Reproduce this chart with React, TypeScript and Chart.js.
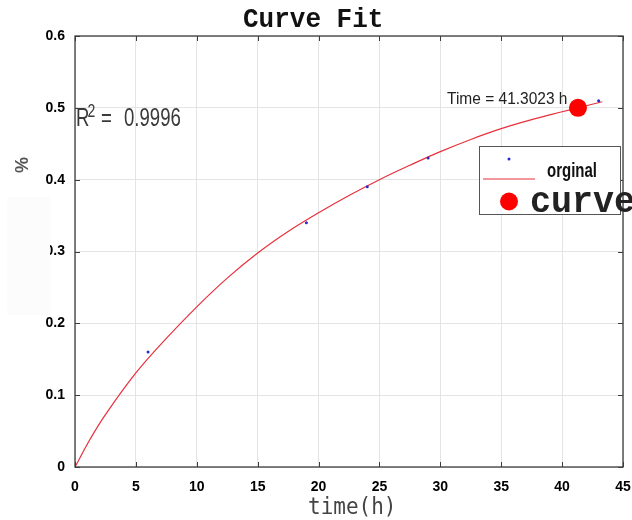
import React, { useEffect, useRef } from "react";
import { Chart, registerables } from "chart.js";

Chart.register(...registerables);

// Measured data (blue dots)
const originalX = [6, 19, 24, 29, 43];
const originalY = [0.16, 0.34, 0.39, 0.43, 0.51];

// Fitted curve
const curveX = [0, 1.25, 2.5, 5, 7.5, 10, 12.5, 15, 17.5, 20, 22.5, 25, 27.5, 30, 32.5, 35, 37.5, 40, 41.3, 43.3];
const curveY = [0, 0.039, 0.073, 0.131, 0.179, 0.223, 0.263, 0.298, 0.328, 0.354, 0.378, 0.4, 0.42, 0.439, 0.456, 0.471, 0.4835, 0.4945, 0.5, 0.5085];

// Marked point
const markX = [41.3023];
const markY = [0.5];

const xTicks = [0, 5, 10, 15, 20, 25, 30, 35, 40, 45];
const yTicks = [0, 0.1, 0.2, 0.3, 0.4, 0.5, 0.6];

const titleText = "Curve Fit";
const xLabel = "time(h)";
const yLabel = "%";
const r2Value = "0.9996";
const timeLabel = "Time = 41.3023 h";
const legendOriginal = "orginal";
const legendCurve = "curve";

const COURIER = "'Courier New', 'Nimbus Mono PS', 'Nimbus Mono L', FreeMono, 'Liberation Mono', monospace";

function stretchText(
  ctx: CanvasRenderingContext2D,
  text: string,
  x: number,
  y: number,
  font: string,
  color: string,
  sy: number
) {
  ctx.save();
  ctx.translate(x, y);
  ctx.scale(1, sy);
  ctx.font = font;
  ctx.fillStyle = color;
  ctx.textAlign = "left";
  ctx.textBaseline = "alphabetic";
  ctx.fillText(text, 0, 0);
  ctx.restore();
}

const decorPlugin = {
  id: "decor",
  afterDatasetsDraw(chart: any) {
    const ctx: CanvasRenderingContext2D = chart.ctx;
    const { left, right, top, bottom } = chart.chartArea;
    const xs = chart.scales.x;
    const ys = chart.scales.y;
    ctx.save();
    ctx.strokeStyle = "#3c3c3c";
    ctx.lineWidth = 1.3;
    ctx.strokeRect(left, top, right - left, bottom - top);
    ctx.lineWidth = 1;
    ctx.beginPath();
    xTicks.forEach((v) => {
      const px = Math.round(xs.getPixelForValue(v)) + 0.5;
      ctx.moveTo(px, bottom);
      ctx.lineTo(px, bottom - 5);
      ctx.moveTo(px, top);
      ctx.lineTo(px, top + 5);
    });
    yTicks.forEach((v) => {
      const py = Math.round(ys.getPixelForValue(v)) + 0.5;
      ctx.moveTo(left, py);
      ctx.lineTo(left + 5, py);
      ctx.moveTo(right, py);
      ctx.lineTo(right - 5, py);
    });
    ctx.stroke();
    ctx.restore();
  },
  afterDraw(chart: any) {
    const ctx: CanvasRenderingContext2D = chart.ctx;
    ctx.save();
    // faint patch over the left side
    ctx.fillStyle = "#fcfcfc";
    ctx.fillRect(7, 197, 43, 118);

    // title
    stretchText(ctx, titleText, 243, 27, "bold 26px " + COURIER, "#111", 1.05);

    // x label
    stretchText(ctx, xLabel, 308, 514, "21px 'DejaVu Sans Mono'", "#444", 1.1);

    // y label rotated
    ctx.save();
    ctx.translate(28, 165);
    ctx.rotate(-Math.PI / 2);
    ctx.font = "bold 18px 'Liberation Sans'";
    ctx.fillStyle = "#555";
    ctx.textAlign = "center";
    ctx.textBaseline = "alphabetic";
    ctx.fillText(yLabel, 0, 0);
    ctx.restore();

    // R^2 text
    stretchText(ctx, "R", 76, 126, "18.6px 'Liberation Sans'", "#3a3a3a", 1.35);
    stretchText(ctx, "2", 87.5, 116.5, "14px 'Liberation Sans'", "#3a3a3a", 1.25);
    stretchText(ctx, "=", 101, 126, "18.6px 'Liberation Sans'", "#3a3a3a", 1.35);
    stretchText(ctx, r2Value, 124, 126, "18.6px 'Liberation Sans'", "#3a3a3a", 1.35);

    // Time annotation
    stretchText(ctx, timeLabel, 447, 104, "15.5px 'Liberation Sans'", "#222", 1.05);

    // legend box
    ctx.fillStyle = "#ffffff";
    ctx.fillRect(479.5, 146.5, 141, 68);
    ctx.strokeStyle = "#555";
    ctx.lineWidth = 1;
    ctx.strokeRect(479.5, 146.5, 141, 68);
    ctx.fillStyle = "#2a2acc";
    ctx.beginPath();
    ctx.arc(509, 159, 1.5, 0, Math.PI * 2);
    ctx.fill();
    ctx.strokeStyle = "#e8303c";
    ctx.lineWidth = 1.2;
    ctx.beginPath();
    ctx.moveTo(483, 179);
    ctx.lineTo(535, 179);
    ctx.stroke();
    stretchText(ctx, legendOriginal, 547, 176.5, "bold 15px 'Liberation Sans'", "#111", 1.3);
    ctx.fillStyle = "#ff0000";
    ctx.beginPath();
    ctx.arc(509, 201.5, 9, 0, Math.PI * 2);
    ctx.fill();
    stretchText(ctx, legendCurve, 530, 211.5, "bold 35px " + COURIER, "#222", 1.05);
    ctx.restore();
  },
};

export default function App() {
  const ref = useRef<HTMLCanvasElement | null>(null);
  useEffect(() => {
    if (!ref.current) return;
    const chart = new Chart(ref.current, {
      type: "line",
      data: {
        datasets: [
          {
            label: "mark",
            data: markX.map((x, i) => ({ x, y: markY[i] })),
            showLine: false,
            pointRadius: 9,
            pointBackgroundColor: "#ff0000",
            pointBorderWidth: 0,
            borderColor: "#ff0000",
          },
          {
            label: legendOriginal,
            data: originalX.map((x, i) => ({ x, y: originalY[i] })),
            showLine: false,
            pointRadius: 1.5,
            pointBackgroundColor: "#2a2acc",
            pointBorderWidth: 0,
            borderColor: "#2a2acc",
          },
          {
            label: legendCurve,
            data: curveX.map((x, i) => ({ x, y: curveY[i] })),
            borderColor: "#e8303c",
            borderWidth: 1.2,
            pointRadius: 0,
            tension: 0.4,
            fill: false,
          },
        ],
      },
      options: {
        responsive: false,
        animation: false,
        layout: { padding: { top: 36, right: 9, left: 0, bottom: 0 } },
        plugins: {
          legend: { display: false },
          title: { display: false },
          tooltip: { enabled: false },
        },
        scales: {
          x: {
            type: "linear",
            min: 0,
            max: 45,
            afterFit: (s: any) => {
              s.height = 53;
              s.paddingLeft = 0;
              s.paddingRight = 0;
            },
            afterBuildTicks: (s: any) => {
              s.ticks = xTicks.map((v) => ({ value: v }));
            },
            ticks: {
              padding: 12,
              color: "#000",
              font: { family: "'Liberation Sans'", size: 14, weight: "bold" },
              callback: (v: any) => String(v),
            },
            grid: { color: "#e4e4e4", lineWidth: 1, drawTicks: false },
            border: { display: false },
          },
          y: {
            type: "linear",
            min: 0,
            max: 0.6,
            afterFit: (s: any) => {
              s.width = 75;
              s.paddingTop = 0;
              s.paddingBottom = 0;
            },
            afterBuildTicks: (s: any) => {
              s.ticks = yTicks.map((v) => ({ value: v }));
            },
            ticks: {
              padding: 10,
              color: "#000",
              font: { family: "'Liberation Sans'", size: 14, weight: "bold" },
              callback: (v: any) => (Number(v) === 0 ? "0" : Number(v).toFixed(1)),
            },
            grid: { color: "#e4e4e4", lineWidth: 1, drawTicks: false },
            border: { display: false },
          },
        },
      },
      plugins: [decorPlugin],
    });
    return () => chart.destroy();
  }, []);
  return (
    <div style={{ position: "absolute", left: 0, top: 0, width: 632, height: 520, background: "#fff" }}>
      <canvas ref={ref} width={632} height={520} style={{ width: 632, height: 520, display: "block" }} />
    </div>
  );
}
